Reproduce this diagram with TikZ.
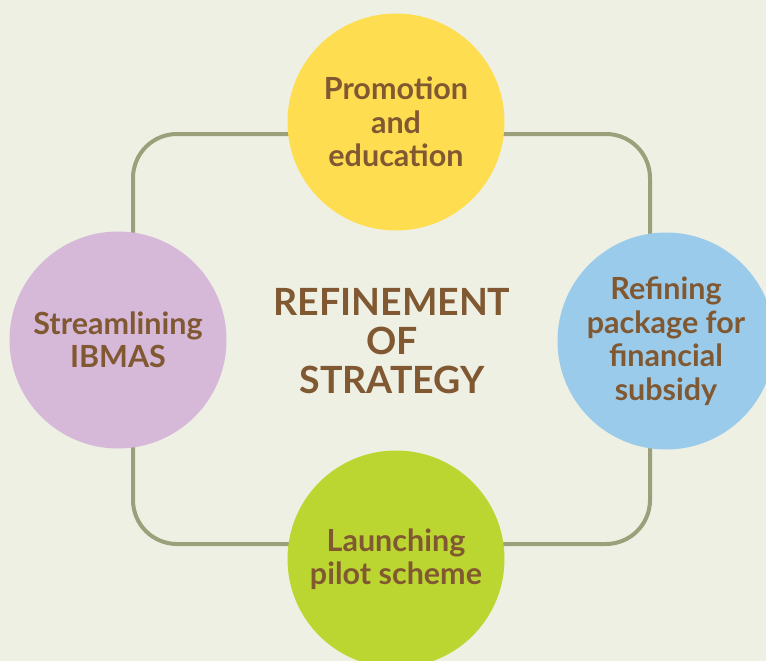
\documentclass[tikz,border=0pt]{standalone}
\usepackage{fontspec}
\setmainfont{Lato}
\definecolor{bgcol}{RGB}{238,240,228}
\definecolor{framecol}{RGB}{155,160,122}
\definecolor{txtcol}{RGB}{128,88,50}
\definecolor{promocol}{RGB}{255,221,80}
\definecolor{subsidycol}{RGB}{155,203,235}
\definecolor{pilotcol}{RGB}{188,214,49}
\definecolor{ibmascol}{RGB}{214,185,217}

\tikzstyle{frame}=[draw=framecol, line width=4pt, rounded corners=44pt]
\tikzstyle{stage}=[circle, minimum size=217pt, inner sep=0pt, align=center, text=txtcol, font=\fontsize{30.5}{33.5}\selectfont\bfseries]
\tikzstyle{hub}=[align=center, text=txtcol, font=\fontsize{37.5}{39}\selectfont\bfseries]

\begin{document}
\begin{tikzpicture}[x=1pt,y=-1pt]
        \useasboundingbox (0,0) rectangle (766,661);
        \clip (0,0) rectangle (766,661);
        \fill[bgcol] (0,0) rectangle (766,661);
        %
        \coordinate (nw) at (133,134);
        \coordinate (se) at (650,544);
        \draw[frame] (nw) rectangle (se);
        %
        \draw (396,122) node[stage, fill=promocol](promo){Promotion\\and\\education};
        \draw (666,341) node[stage, fill=subsidycol](subsidy){Refining\\package for\\financial\\subsidy};
        \draw (396,559) node[stage, fill=pilotcol](pilot){Launching\\pilot scheme};
        \draw (118,340) node[stage, fill=ibmascol](ibmas){Streamlining\\IBMAS};
        \draw (392,341) node[hub](hub){REFINEMENT\\OF\\STRATEGY};
        %;
      \end{tikzpicture}
\end{document}
